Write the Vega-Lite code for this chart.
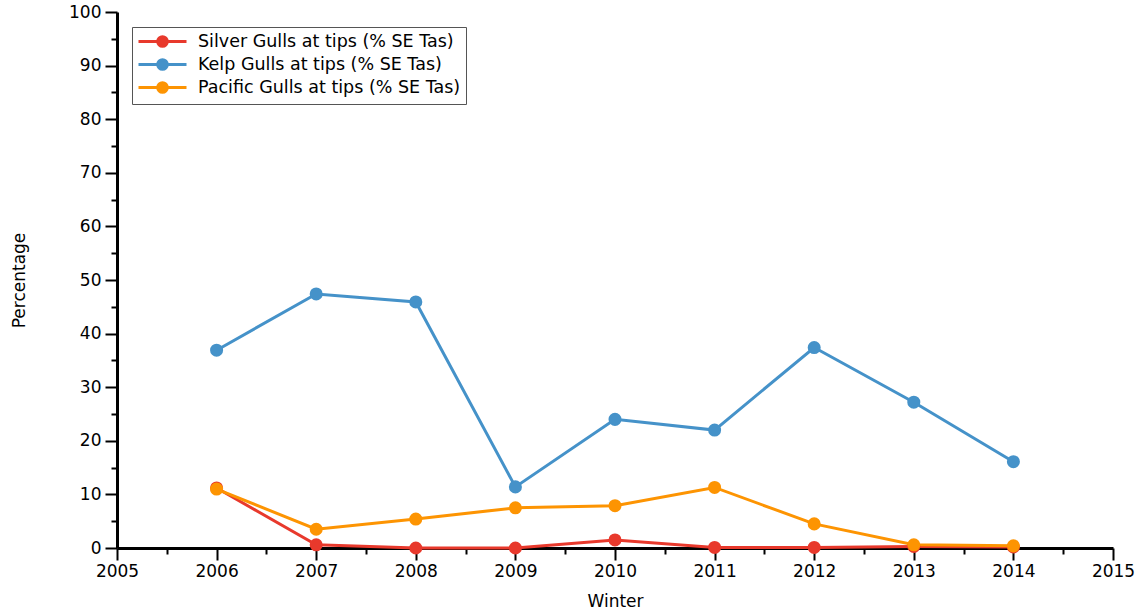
{
  "$schema": "https://vega.github.io/schema/vega-lite/v6.json",
  "width": 996,
  "height": 536,
  "autosize": {"type": "none"},
  "padding": {"left": 117, "top": 12, "right": 30, "bottom": 63},
  "background": "white",
  "config": {
    "view": {"stroke": null},
    "font": "DejaVu Sans",
    "axis": {"grid": false, "domainColor": "black", "domainWidth": 3, "tickColor": "black", "tickWidth": 2, "labelFont": "DejaVu Sans", "labelFontSize": 17, "labelColor": "black", "titleFont": "DejaVu Sans", "titleFontSize": 17, "titleFontWeight": "normal", "titleColor": "black"}
  },
  "data": {"values": [
    {"Winter": 2006, "series": "Silver Gulls at tips (% SE Tas)", "value": 11.2},
    {"Winter": 2007, "series": "Silver Gulls at tips (% SE Tas)", "value": 0.6},
    {"Winter": 2008, "series": "Silver Gulls at tips (% SE Tas)", "value": 0.0},
    {"Winter": 2009, "series": "Silver Gulls at tips (% SE Tas)", "value": 0.0},
    {"Winter": 2010, "series": "Silver Gulls at tips (% SE Tas)", "value": 1.5},
    {"Winter": 2011, "series": "Silver Gulls at tips (% SE Tas)", "value": 0.1},
    {"Winter": 2012, "series": "Silver Gulls at tips (% SE Tas)", "value": 0.1},
    {"Winter": 2013, "series": "Silver Gulls at tips (% SE Tas)", "value": 0.3},
    {"Winter": 2014, "series": "Silver Gulls at tips (% SE Tas)", "value": 0.2},
    {"Winter": 2006, "series": "Kelp Gulls at tips (% SE Tas)", "value": 36.9},
    {"Winter": 2007, "series": "Kelp Gulls at tips (% SE Tas)", "value": 47.4},
    {"Winter": 2008, "series": "Kelp Gulls at tips (% SE Tas)", "value": 45.9},
    {"Winter": 2009, "series": "Kelp Gulls at tips (% SE Tas)", "value": 11.4},
    {"Winter": 2010, "series": "Kelp Gulls at tips (% SE Tas)", "value": 24.0},
    {"Winter": 2011, "series": "Kelp Gulls at tips (% SE Tas)", "value": 22.0},
    {"Winter": 2012, "series": "Kelp Gulls at tips (% SE Tas)", "value": 37.4},
    {"Winter": 2013, "series": "Kelp Gulls at tips (% SE Tas)", "value": 27.2},
    {"Winter": 2014, "series": "Kelp Gulls at tips (% SE Tas)", "value": 16.1},
    {"Winter": 2006, "series": "Pacific Gulls at tips (% SE Tas)", "value": 11.0},
    {"Winter": 2007, "series": "Pacific Gulls at tips (% SE Tas)", "value": 3.5},
    {"Winter": 2008, "series": "Pacific Gulls at tips (% SE Tas)", "value": 5.4},
    {"Winter": 2009, "series": "Pacific Gulls at tips (% SE Tas)", "value": 7.5},
    {"Winter": 2010, "series": "Pacific Gulls at tips (% SE Tas)", "value": 7.9},
    {"Winter": 2011, "series": "Pacific Gulls at tips (% SE Tas)", "value": 11.3},
    {"Winter": 2012, "series": "Pacific Gulls at tips (% SE Tas)", "value": 4.5},
    {"Winter": 2013, "series": "Pacific Gulls at tips (% SE Tas)", "value": 0.6},
    {"Winter": 2014, "series": "Pacific Gulls at tips (% SE Tas)", "value": 0.4}
  ]},
  "resolve": {"axis": {"x": "independent", "y": "independent"}},
  "layer": [
    {
      "mark": {"type": "line", "strokeWidth": 3, "point": {"size": 170, "filled": true, "opacity": 1}},
      "encoding": {
        "x": {"field": "Winter", "type": "quantitative", "scale": {"domain": [2005, 2015], "nice": false, "zero": false},
          "axis": {"orient": "bottom", "title": "Winter", "values": [2005, 2006, 2007, 2008, 2009, 2010, 2011, 2012, 2013, 2014, 2015], "format": "d", "tickSize": 12, "labelPadding": 3, "titlePadding": 14, "labelFlush": false}},
        "y": {"field": "value", "type": "quantitative", "scale": {"domain": [0, 100], "nice": false},
          "axis": {"orient": "left", "title": "Percentage", "values": [0, 10, 20, 30, 40, 50, 60, 70, 80, 90, 100], "tickSize": 12, "labelPadding": 4, "titlePadding": 40}},
        "color": {"field": "series", "type": "nominal", "sort": null,
          "scale": {"domain": ["Silver Gulls at tips (% SE Tas)", "Kelp Gulls at tips (% SE Tas)", "Pacific Gulls at tips (% SE Tas)"], "range": ["#e8392c", "#4592c9", "#fd9402"]},
          "legend": {"title": null, "orient": "none", "legendX": 15, "legendY": 15, "direction": "vertical",
            "symbolType": "M-3,0H3M-0.6,0A0.6,0.6 0 1,1 0.6,0A0.6,0.6 0 1,1 -0.6,0Z", "symbolSize": 256, "symbolStrokeWidth": 3, "symbolFillColor": null, "symbolOffset": 16,
            "labelFont": "DejaVu Sans", "labelFontSize": 17.5, "labelColor": "black", "labelLimit": 0, "rowPadding": 0, "labelOffset": 26,
            "strokeColor": "#555", "fillColor": "white", "padding": 5}}
      }
    },
    {
      "mark": {"type": "point", "opacity": 0},
      "encoding": {
        "x": {"field": "Winter", "type": "quantitative", "scale": {"domain": [2005, 2015], "nice": false, "zero": false},
          "axis": {"orient": "bottom", "title": null, "labels": false, "domain": false, "values": [2005.5, 2006.5, 2007.5, 2008.5, 2009.5, 2010.5, 2011.5, 2012.5, 2013.5, 2014.5], "tickSize": 6}},
        "y": {"field": "value", "type": "quantitative", "scale": {"domain": [0, 100], "nice": false},
          "axis": {"orient": "left", "title": null, "labels": false, "domain": false, "values": [5, 15, 25, 35, 45, 55, 65, 75, 85, 95], "tickSize": 6}}
      }
    }
  ]
}
